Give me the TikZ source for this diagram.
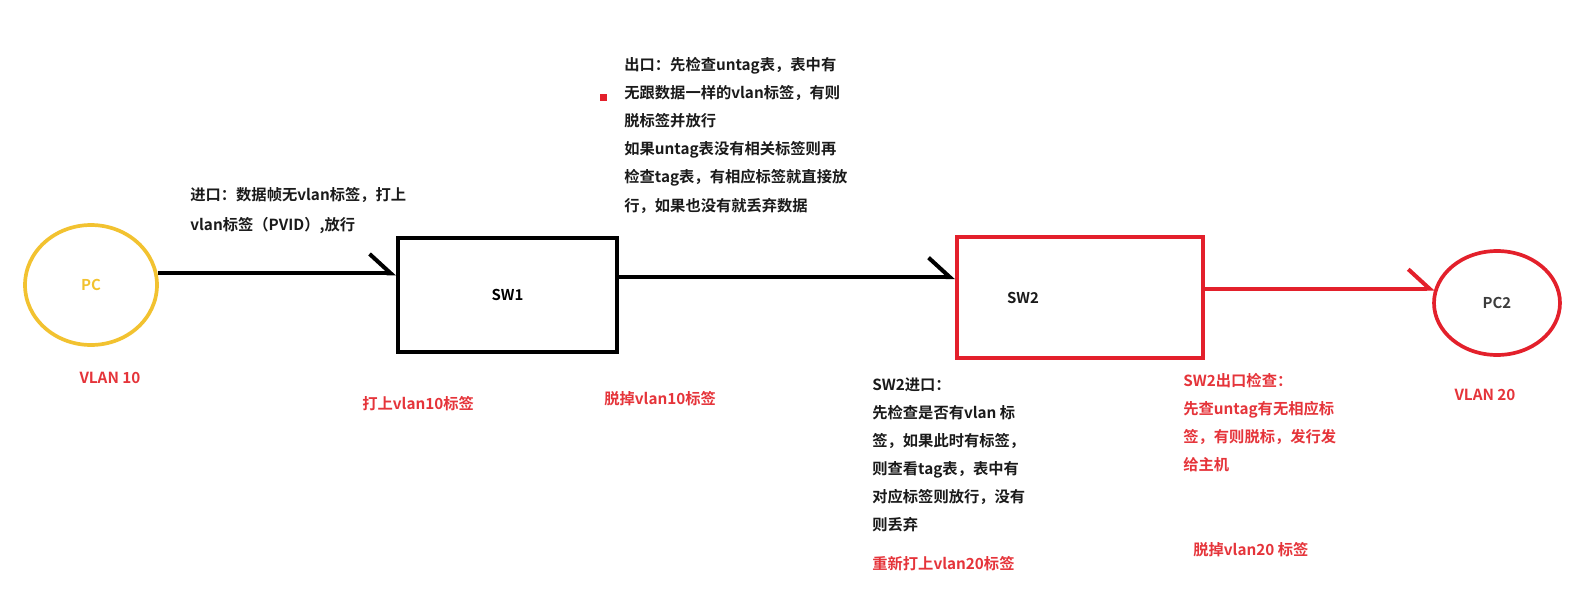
\documentclass[tikz,border=0pt]{standalone}
\usepackage{fontspec}
\setmainfont{Noto Sans CJK SC}[BoldFont={* Bold}]
\usetikzlibrary{arrows.meta,shapes.geometric}

\definecolor{pcyellow}{HTML}{F2C230}
\definecolor{swred}{HTML}{E3202B}
\definecolor{notered}{HTML}{E5343A}
\definecolor{ink}{HTML}{1A1A1A}

\tikzset{
  box/.style={draw, line width=2.5pt, minimum width=4.38cm, minimum height=2.28cm, inner sep=0pt},
  host/.style={ellipse, draw, line width=2.1pt, inner sep=0pt},
  link/.style={line width=2.3pt, -{Straight Barb[left, length=12pt, width=22pt]}},
  note/.style={anchor=north west, inner sep=0pt, align=left, text=ink,
    font=\fontsize{8.7}{16}\selectfont\bfseries},
  tagnote/.style={note, text=notered},
  vlan/.style={inner sep=0pt, text=notered, font=\fontsize{8.7}{10}\selectfont\bfseries},
}

\begin{document}
\begin{tikzpicture}[x=0.02cm, y=-0.02cm]

    \useasboundingbox (0,0) rectangle (1579,602);

    % hosts
    \node[host, draw=pcyellow, text=pcyellow, minimum width=2.64cm, minimum height=2.4cm,
      font=\fontsize{8.5}{10}\selectfont\bfseries] (pc) at (91,285) {PC};
    \node[host, draw=swred, text=ink!85, minimum width=2.52cm, minimum height=2.08cm,
      font=\fontsize{8.5}{10}\selectfont\bfseries] (pc2) at (1497,303) {PC2};
    \node[vlan] (vlan10) at (110,378) {VLAN 10};
    \node[vlan] (vlan20) at (1485,395) {VLAN 20};

    % switches
    \node[box, font=\fontsize{8.5}{10}\selectfont\bfseries] (sw1) at (507.5,295) {SW1};
    \node[box, draw=swred, minimum width=4.92cm, minimum height=2.42cm,
      label={[xshift=-1.14cm, font=\fontsize{8.5}{10}\selectfont\bfseries, text=ink]center:SW2}]
      (sw2) at (1080,297.5) {};

    % liens
    \draw[link] (pc.10) -- (pc.10 -| sw1.west);
    \draw[link] ([yshift=0.36cm]sw1.east) -- ([yshift=0.36cm]sw1.east -| sw2.west);
    \draw[link, swred] (pc2.167 -| sw2.east) -- (pc2.167);

    % textes
    \node[note, font=\fontsize{8.7}{17}\selectfont\bfseries] (in1) at (190,187)
      {进口：数据帧无vlan标签，打上\\vlan标签（PVID）,放行};
    \node[tagnote] (tag1) at (362,396) {打上vlan10标签};
    \node[tagnote] (untag1) at (604,391) {脱掉vlan10标签};
    \node[note] (out1) at (624,57) {出口：先检查untag表，表中有\\无跟数据一样的vlan标签，有则\\脱标签并放行\\如果untag表没有相关标签则再\\检查tag表，有相应标签就直接放\\行，如果也没有就丢弃数据};
    \fill[swred] (600,94) rectangle (607,101);
    \node[note] (in2) at (872,377) {SW2进口：\\先检查是否有vlan 标\\签，如果此时有标签，\\则查看tag表，表中有\\对应标签则放行，没有\\则丢弃};
    \node[tagnote] (retag) at (872,556) {重新打上vlan20标签};
    \node[tagnote] (out2) at (1183,373) {SW2出口检查：\\先查untag有无相应标\\签，有则脱标，发行发\\给主机};
    \node[tagnote] (untag2) at (1193,542) {脱掉vlan20 标签};

\end{tikzpicture}
\end{document}
